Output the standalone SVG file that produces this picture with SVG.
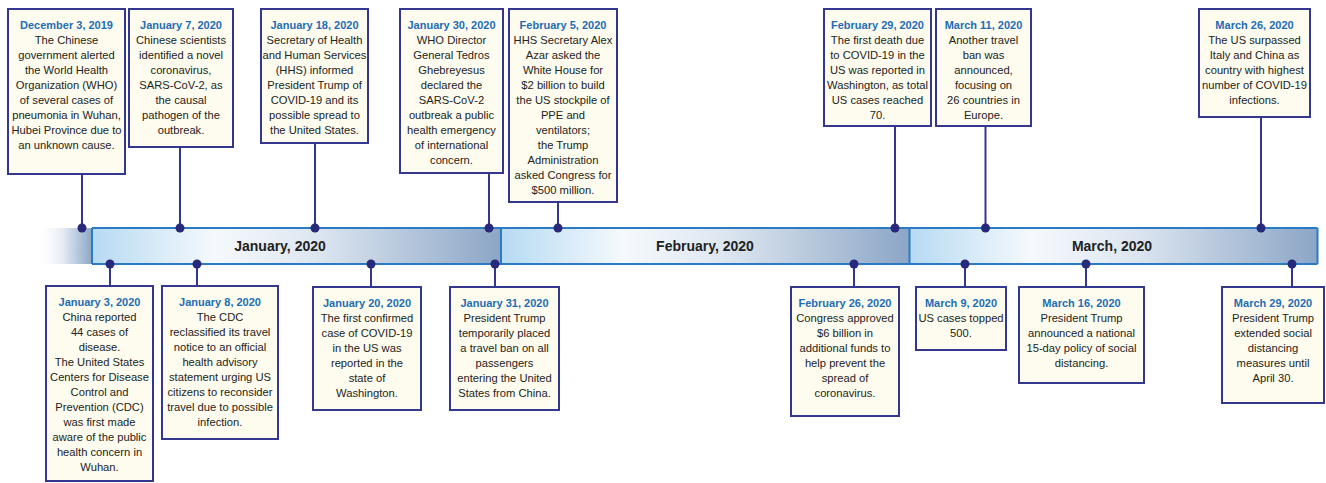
<svg xmlns="http://www.w3.org/2000/svg" width="1326" height="483" viewBox="0 0 1326 483">
<defs>
<style>
.box{fill:#fdfcee;stroke:#34378f;stroke-width:2}
.t{font-family:"Liberation Sans",Arial,sans-serif;font-size:11px;font-weight:bold;fill:#1e6db4;text-anchor:middle}
.b{font-family:"Liberation Sans",Arial,sans-serif;font-size:11.2px;fill:#232323;text-anchor:middle}
.m{font-family:"Liberation Sans",Arial,sans-serif;font-size:14px;font-weight:bold;fill:#222;text-anchor:middle}
.c{stroke:#34378f;stroke-width:2;fill:none}
.d{fill:#28297a}
.bl{stroke:#2a7bc4;stroke-width:2}
</style>
<linearGradient id="seg" x1="0" y1="0" x2="1" y2="0">
<stop offset="0" stop-color="#b6daf2"/>
<stop offset="0.3" stop-color="#f5f9fd"/>
<stop offset="0.55" stop-color="#dde6f0"/>
<stop offset="1" stop-color="#8ca6c6"/>
</linearGradient>
<linearGradient id="stub" x1="0" y1="0" x2="1" y2="0">
<stop offset="0" stop-color="#ffffff" stop-opacity="0"/>
<stop offset="0.5" stop-color="#e4ebf3"/>
<stop offset="1" stop-color="#8ca6c6"/>
</linearGradient>
<linearGradient id="stubl" x1="0" y1="0" x2="1" y2="0">
<stop offset="0" stop-color="#2a7bc4" stop-opacity="0"/>
<stop offset="0.6" stop-color="#2a7bc4"/>
<stop offset="1" stop-color="#2a7bc4"/>
</linearGradient>
</defs>

<g id="timeline">
<rect x="34" y="228" width="58" height="36" fill="url(#stub)"/>
<rect x="92" y="228" width="409" height="36" fill="url(#seg)"/>
<rect x="501" y="228" width="408.5" height="36" fill="url(#seg)"/>
<rect x="909.5" y="228" width="408" height="36" fill="url(#seg)"/>
<line x1="34" y1="228" x2="92" y2="228" stroke="url(#stubl)" stroke-width="2"/>
<line x1="34" y1="264" x2="92" y2="264" stroke="url(#stubl)" stroke-width="2"/>
<line class="bl" x1="92" y1="228" x2="1317.5" y2="228"/>
<line class="bl" x1="92" y1="264" x2="1317.5" y2="264"/>
<line class="bl" x1="92" y1="228" x2="92" y2="264" stroke-width="1.5"/>
<line class="bl" x1="501" y1="228" x2="501" y2="264" stroke-width="1.5"/>
<line class="bl" x1="909.5" y1="228" x2="909.5" y2="264" stroke-width="1.5"/>
<line class="bl" x1="1317.5" y1="228" x2="1317.5" y2="264" stroke-width="1.5"/>
<text class="m" x="280" y="251">January, 2020</text>
<text class="m" x="705" y="251">February, 2020</text>
<text class="m" x="1112" y="251">March, 2020</text>
</g>

<g id="connectors">
<path class="c" d="M82 174V228M180 147V228M315 143V228M489 173V228M558 202V228M895 126V228M985.5 126V228M1261 117V228"/>
<path class="c" d="M110 264V286M197 264V286M371 264V287M495 264V287M854 264V287M965 264V287M1086 264V287M1292 264V287"/>
<g>
<circle class="d" cx="82" cy="228" r="4.5"/><circle class="d" cx="180" cy="228" r="4.5"/><circle class="d" cx="315" cy="228" r="4.5"/><circle class="d" cx="489" cy="228" r="4.5"/><circle class="d" cx="558" cy="228" r="4.5"/><circle class="d" cx="895" cy="228" r="4.5"/><circle class="d" cx="985.5" cy="228" r="4.5"/><circle class="d" cx="1261" cy="228" r="4.5"/>
<circle class="d" cx="110" cy="264" r="4.5"/><circle class="d" cx="197" cy="264" r="4.5"/><circle class="d" cx="371" cy="264" r="4.5"/><circle class="d" cx="495" cy="264" r="4.5"/><circle class="d" cx="854" cy="264" r="4.5"/><circle class="d" cx="965" cy="264" r="4.5"/><circle class="d" cx="1086" cy="264" r="4.5"/><circle class="d" cx="1292" cy="264" r="4.5"/>
</g>
</g>

<g id="dec3">
<rect class="box" x="8" y="9" width="117" height="165"/>
<text class="t" x="66.5" y="28.5">December 3, 2019</text>
<text class="b" x="66.5" y="28.5"><tspan x="66.5" dy="15">The Chinese</tspan><tspan x="66.5" dy="15">government alerted</tspan><tspan x="66.5" dy="15">the World Health</tspan><tspan x="66.5" dy="15">Organization (WHO)</tspan><tspan x="66.5" dy="15">of several cases of</tspan><tspan x="66.5" dy="15">pneumonia in Wuhan,</tspan><tspan x="66.5" dy="15">Hubei Province due to</tspan><tspan x="66.5" dy="15">an unknown cause.</tspan></text>
</g>

<g id="jan7">
<rect class="box" x="129" y="9" width="104" height="138"/>
<text class="t" x="181" y="28.5">January 7, 2020</text>
<text class="b" x="181" y="28.5"><tspan x="181" dy="15">Chinese scientists</tspan><tspan x="181" dy="15">identified a novel</tspan><tspan x="181" dy="15">coronavirus,</tspan><tspan x="181" dy="15">SARS-CoV-2, as</tspan><tspan x="181" dy="15">the causal</tspan><tspan x="181" dy="15">pathogen of the</tspan><tspan x="181" dy="15">outbreak.</tspan></text>
</g>

<g id="jan18">
<rect class="box" x="261" y="9" width="107" height="134"/>
<text class="t" x="314.5" y="28.5">January 18, 2020</text>
<text class="b" x="314.5" y="28.5"><tspan x="314.5" dy="15">Secretary of Health</tspan><tspan x="314.5" dy="15">and Human Services</tspan><tspan x="314.5" dy="15">(HHS) informed</tspan><tspan x="314.5" dy="15">President Trump of</tspan><tspan x="314.5" dy="15">COVID-19 and its</tspan><tspan x="314.5" dy="15">possible spread to</tspan><tspan x="314.5" dy="15">the United States.</tspan></text>
</g>

<g id="jan30">
<rect class="box" x="400" y="9" width="103" height="164"/>
<text class="t" x="451.5" y="28.5">January 30, 2020</text>
<text class="b" x="451.5" y="28.5"><tspan x="451.5" dy="15">WHO Director</tspan><tspan x="451.5" dy="15">General Tedros</tspan><tspan x="451.5" dy="15">Ghebreyesus</tspan><tspan x="451.5" dy="15">declared the</tspan><tspan x="451.5" dy="15">SARS-CoV-2</tspan><tspan x="451.5" dy="15">outbreak a public</tspan><tspan x="451.5" dy="15">health emergency</tspan><tspan x="451.5" dy="15">of international</tspan><tspan x="451.5" dy="15">concern.</tspan></text>
</g>

<g id="feb5">
<rect class="box" x="509" y="9" width="108" height="193"/>
<text class="t" x="563" y="28.5">February 5, 2020</text>
<text class="b" x="563" y="28.5"><tspan x="563" dy="15">HHS Secretary Alex</tspan><tspan x="563" dy="15">Azar asked the</tspan><tspan x="563" dy="15">White House for</tspan><tspan x="563" dy="15">$2 billion to build</tspan><tspan x="563" dy="15">the US stockpile of</tspan><tspan x="563" dy="15">PPE and</tspan><tspan x="563" dy="15">ventilators;</tspan><tspan x="563" dy="15">the Trump</tspan><tspan x="563" dy="15">Administration</tspan><tspan x="563" dy="15">asked Congress for</tspan><tspan x="563" dy="15">$500 million.</tspan></text>
</g>

<g id="feb29">
<rect class="box" x="824" y="9" width="107" height="117"/>
<text class="t" x="877.5" y="28.5">February 29, 2020</text>
<text class="b" x="877.5" y="28.5"><tspan x="877.5" dy="15">The first death due</tspan><tspan x="877.5" dy="15">to COVID-19 in the</tspan><tspan x="877.5" dy="15">US was reported in</tspan><tspan x="877.5" dy="15">Washington, as total</tspan><tspan x="877.5" dy="15">US cases reached</tspan><tspan x="877.5" dy="15">70.</tspan></text>
</g>

<g id="mar11">
<rect class="box" x="936" y="9" width="95" height="117"/>
<text class="t" x="983.5" y="28.5">March 11, 2020</text>
<text class="b" x="983.5" y="28.5"><tspan x="983.5" dy="15">Another travel</tspan><tspan x="983.5" dy="15">ban was</tspan><tspan x="983.5" dy="15">announced,</tspan><tspan x="983.5" dy="15">focusing on</tspan><tspan x="983.5" dy="15">26 countries in</tspan><tspan x="983.5" dy="15">Europe.</tspan></text>
</g>

<g id="mar26">
<rect class="box" x="1199" y="9" width="111" height="108"/>
<text class="t" x="1254.5" y="28.5">March 26, 2020</text>
<text class="b" x="1254.5" y="28.5"><tspan x="1254.5" dy="15">The US surpassed</tspan><tspan x="1254.5" dy="15">Italy and China as</tspan><tspan x="1254.5" dy="15">country with highest</tspan><tspan x="1254.5" dy="15">number of COVID-19</tspan><tspan x="1254.5" dy="15">infections.</tspan></text>
</g>

<g id="jan3">
<rect class="box" x="46" y="286" width="107" height="195"/>
<text class="t" x="99.5" y="306">January 3, 2020</text>
<text class="b" x="99.5" y="306"><tspan x="99.5" dy="15">China reported</tspan><tspan x="99.5" dy="15">44 cases of</tspan><tspan x="99.5" dy="15">disease.</tspan><tspan x="99.5" dy="15">The United States</tspan><tspan x="99.5" dy="15">Centers for Disease</tspan><tspan x="99.5" dy="15">Control and</tspan><tspan x="99.5" dy="15">Prevention (CDC)</tspan><tspan x="99.5" dy="15">was first made</tspan><tspan x="99.5" dy="15">aware of the public</tspan><tspan x="99.5" dy="15">health concern in</tspan><tspan x="99.5" dy="15">Wuhan.</tspan></text>
</g>

<g id="jan8">
<rect class="box" x="162" y="286" width="116" height="153"/>
<text class="t" x="220" y="306">January 8, 2020</text>
<text class="b" x="220" y="306"><tspan x="220" dy="15">The CDC</tspan><tspan x="220" dy="15">reclassified its travel</tspan><tspan x="220" dy="15">notice to an official</tspan><tspan x="220" dy="15">health advisory</tspan><tspan x="220" dy="15">statement urging US</tspan><tspan x="220" dy="15">citizens to reconsider</tspan><tspan x="220" dy="15">travel due to possible</tspan><tspan x="220" dy="15">infection.</tspan></text>
</g>

<g id="jan20">
<rect class="box" x="313" y="287" width="108" height="123"/>
<text class="t" x="367" y="307">January 20, 2020</text>
<text class="b" x="367" y="307"><tspan x="367" dy="15">The first confirmed</tspan><tspan x="367" dy="15">case of COVID-19</tspan><tspan x="367" dy="15">in the US was</tspan><tspan x="367" dy="15">reported in the</tspan><tspan x="367" dy="15">state of</tspan><tspan x="367" dy="15">Washington.</tspan></text>
</g>

<g id="jan31">
<rect class="box" x="450" y="287" width="109" height="123"/>
<text class="t" x="504.5" y="307">January 31, 2020</text>
<text class="b" x="504.5" y="307"><tspan x="504.5" dy="15">President Trump</tspan><tspan x="504.5" dy="15">temporarily placed</tspan><tspan x="504.5" dy="15">a travel ban on all</tspan><tspan x="504.5" dy="15">passengers</tspan><tspan x="504.5" dy="15">entering the United</tspan><tspan x="504.5" dy="15">States from China.</tspan></text>
</g>

<g id="feb26">
<rect class="box" x="791" y="287" width="108" height="129"/>
<text class="t" x="845" y="307">February 26, 2020</text>
<text class="b" x="845" y="307"><tspan x="845" dy="15">Congress approved</tspan><tspan x="845" dy="15">$6 billion in</tspan><tspan x="845" dy="15">additional funds to</tspan><tspan x="845" dy="15">help prevent the</tspan><tspan x="845" dy="15">spread of</tspan><tspan x="845" dy="15">coronavirus.</tspan></text>
</g>

<g id="mar9">
<rect class="box" x="916" y="287" width="90" height="63"/>
<text class="t" x="961" y="307">March 9, 2020</text>
<text class="b" x="961" y="307"><tspan x="961" dy="15">US cases topped</tspan><tspan x="961" dy="15">500.</tspan></text>
</g>

<g id="mar16">
<rect class="box" x="1019" y="287" width="125" height="96"/>
<text class="t" x="1081.5" y="307">March 16, 2020</text>
<text class="b" x="1081.5" y="307"><tspan x="1081.5" dy="15">President Trump</tspan><tspan x="1081.5" dy="15">announced a national</tspan><tspan x="1081.5" dy="15">15-day policy of social</tspan><tspan x="1081.5" dy="15">distancing.</tspan></text>
</g>

<g id="mar29">
<rect class="box" x="1222" y="287" width="102" height="116"/>
<text class="t" x="1273" y="307">March 29, 2020</text>
<text class="b" x="1273" y="307"><tspan x="1273" dy="15">President Trump</tspan><tspan x="1273" dy="15">extended social</tspan><tspan x="1273" dy="15">distancing</tspan><tspan x="1273" dy="15">measures until</tspan><tspan x="1273" dy="15">April 30.</tspan></text>
</g>
</svg>
